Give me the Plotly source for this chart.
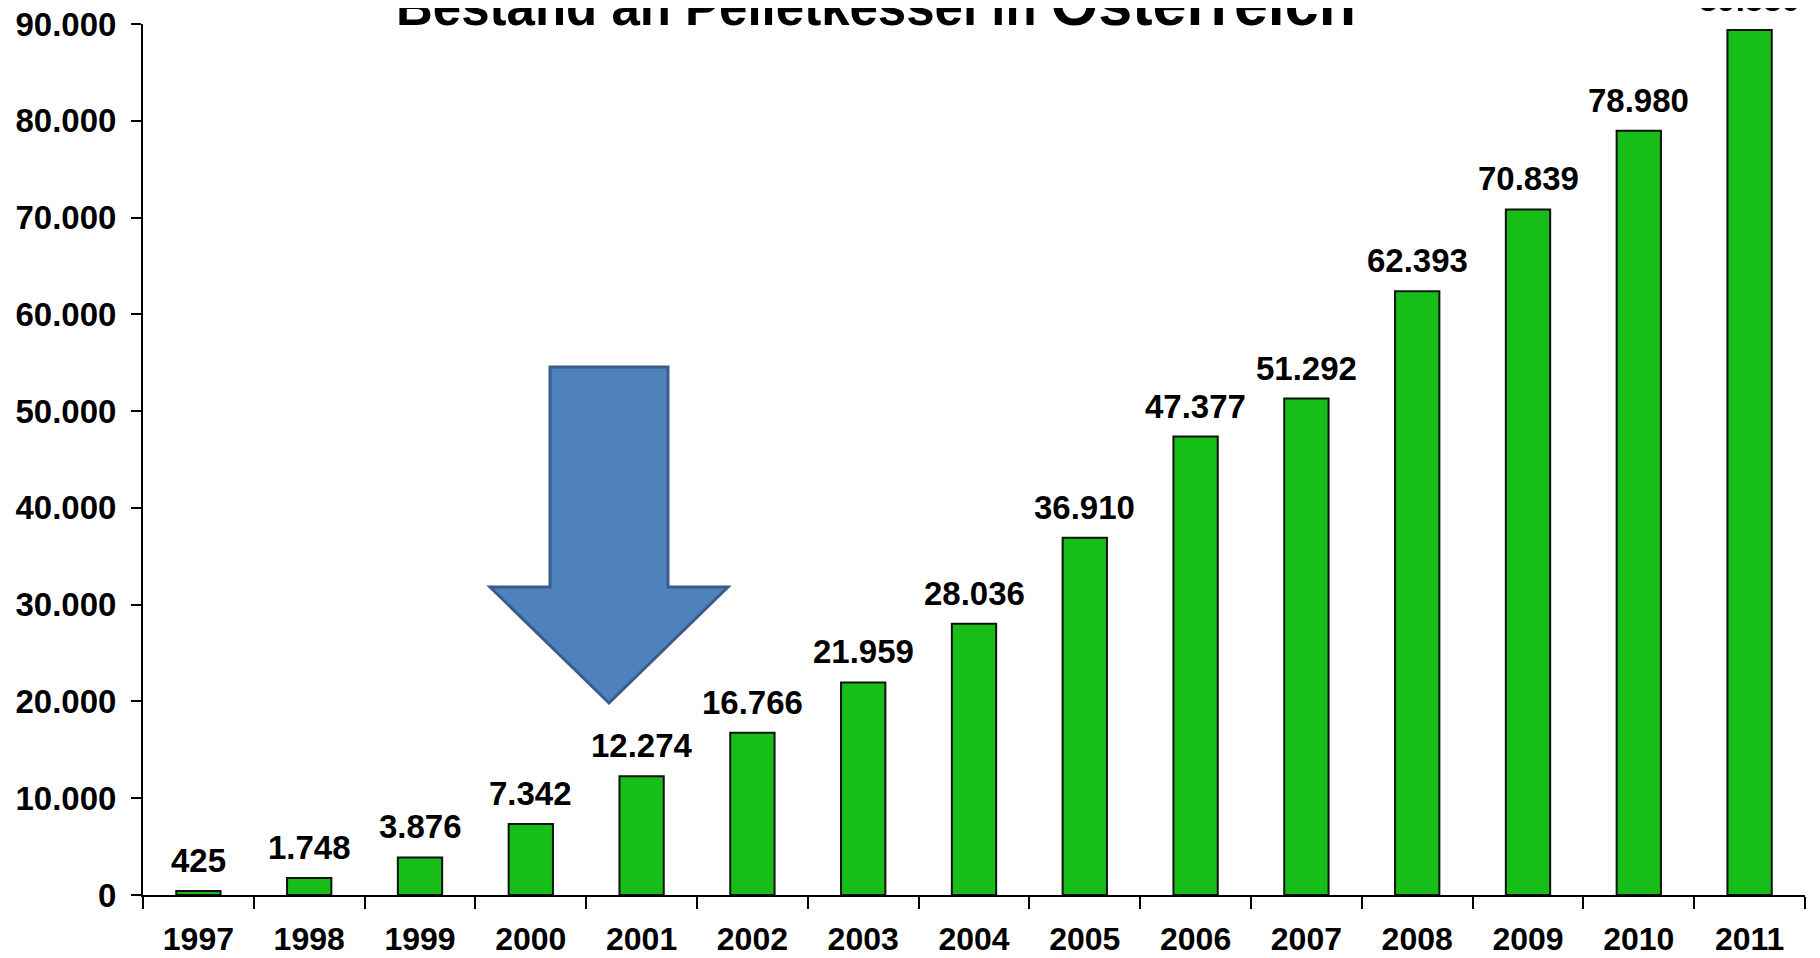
import plotly.graph_objects as go

years = ["1997", "1998", "1999", "2000", "2001", "2002", "2003", "2004",
         "2005", "2006", "2007", "2008", "2009", "2010", "2011"]
bestand = [425, 1748, 3876, 7342, 12274, 16766, 21959, 28036,
           36910, 47377, 51292, 62393, 70839, 78980, 89380]
y_ticks = [0, 10000, 20000, 30000, 40000, 50000, 60000, 70000, 80000, 90000]
title_main = "Bestand an Pelletkessel in "
title_country = "Österreich"

W, H = 1820, 958
OFF = 8  # default body margin of the html page
ML, MR, MT, MB = 143 - OFF, 15 + OFF, 24 - OFF, 63 + OFF
PW, PH = W - ML - MR, H - MT - MB

def fmt(v):
    return f"{v:,}".replace(",", ".")

FONT = "Liberation Sans, Arial, sans-serif"

fig = go.Figure()
fig.add_trace(go.Bar(
    x=years, y=bestand, width=0.40,
    marker=dict(color="#18BE18", line=dict(color="#111111", width=2)),
    hoverinfo="x+y", showlegend=False,
))

annotations = []
for i, v in enumerate(bestand):
    annotations.append(dict(
        x=i, y=v, xref="x", yref="y", text=fmt(v), showarrow=False,
        yanchor="bottom", xanchor="center", yshift=10,
        font=dict(family=FONT, size=33, color="#000000", weight="bold"),
    ))

# page-pixel helpers -> paper coordinates
def px(x):
    return (x - OFF - ML) / PW

def py(y):
    return (MT + PH - (y - OFF)) / PH

# title (partly clipped at the top, as in the reference)
annotations.append(dict(
    x=px(876), y=1, xref="paper", yref="paper", yanchor="bottom",
    xanchor="center", yshift=-16, showarrow=False,
    text=title_main + f"<span style='font-size:61px'>{title_country}</span>",
    font=dict(family=FONT, size=51, color="#000000", weight="bold"),
))

# block arrow decoration
pts = [(550, 367), (668, 367), (668, 587), (728, 587), (609, 703),
       (490, 587), (550, 587)]
path = "M " + " L ".join(f"{px(a):.5f},{py(b):.5f}" for a, b in pts) + " Z"
shapes = [dict(type="path", xref="paper", yref="paper", path=path,
               fillcolor="#4F81BD", line=dict(color="#385D8A", width=3))]

fig.update_layout(
    width=W, height=H,
    margin=dict(l=ML, r=MR, t=MT, b=MB, pad=0),
    paper_bgcolor="white", plot_bgcolor="white",
    separators=",.",
    annotations=annotations, shapes=shapes,
    xaxis=dict(
        type="category", range=[-0.5, len(years) - 0.5], automargin=False,
        showgrid=False, showline=True, linecolor="#000000",
        linewidth=2, ticks="outside", ticklen=12, tickwidth=2,
        tickcolor="#000000", tickson="boundaries", ticklabelstandoff=15,
        tickangle=0, ticklabeloverflow="allow",
        tickfont=dict(family=FONT, size=32, color="#000000", weight="bold"),
        zeroline=False,
    ),
    yaxis=dict(
        range=[0, 90000], tickvals=y_ticks, tickformat=",d", automargin=False,
        showgrid=False, showline=True, linecolor="#000000", linewidth=2,
        ticks="outside", ticklen=10, tickwidth=2, tickcolor="#000000",
        ticklabelstandoff=8, zeroline=False, ticklabeloverflow="allow",
        tickfont=dict(family=FONT, size=33, color="#000000", weight="bold"),
    ),
)

fig.write_html("out.html")
